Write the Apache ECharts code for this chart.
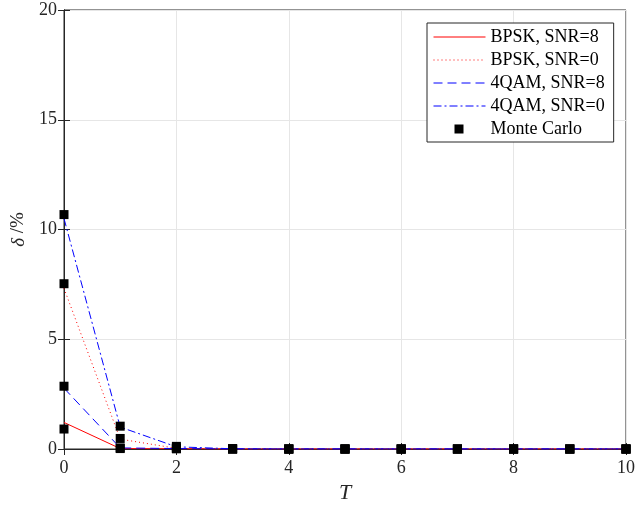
<!DOCTYPE html>
<html>
<head>
<meta charset="utf-8">
<script src="https://cdn.jsdelivr.net/npm/echarts@6/dist/echarts.min.js"></script>
<style>
  html, body { margin: 0; padding: 0; background: #fff; }
  #chart { width: 638px; height: 510px; }
</style>
</head>
<body>
<div id="chart"></div>
<script>
// Frame length T on the x axis
const tValues = [0, 1, 2, 3, 4, 5, 6, 7, 8, 9, 10];

// Analytical curves, delta in percent
const bpskSnr8 = [1.21, 0.02, 0.01, 0, 0, 0, 0, 0, 0, 0, 0];
const bpskSnr0 = [7.32, 0.45, 0.03, 0, 0, 0, 0, 0, 0, 0, 0];
const qamSnr8  = [2.77, 0.05, 0.02, 0, 0, 0, 0, 0, 0, 0, 0];
const qamSnr0  = [10.5, 1.0, 0.1, 0.01, 0, 0, 0, 0, 0, 0, 0];

// Monte Carlo results for each case
const mcBpskSnr8 = [0.91, 0.02, 0.01, 0, 0, 0, 0, 0, 0, 0, 0];
const mcBpskSnr0 = [7.53, 0.48, 0.05, 0, 0, 0, 0, 0, 0, 0, 0];
const mcQamSnr8  = [2.86, 0.05, 0.02, 0, 0, 0, 0, 0, 0, 0, 0];
const mcQamSnr0  = [10.68, 1.04, 0.12, 0.02, 0, 0, 0, 0, 0, 0, 0];

const seriesNames = ['BPSK, SNR=8', 'BPSK, SNR=0', '4QAM, SNR=8', '4QAM, SNR=0', 'Monte Carlo'];

const xTicks = [0, 2, 4, 6, 8, 10];
const yTicks = [0, 5, 10, 15, 20];

const FONT = '"Liberation Serif", "Times New Roman", serif';
const AXIS_COLOR = '#262626';
const GRID_COLOR = '#e6e6e6';
const RED = '#ff0000';
const BLUE = '#0000ff';

// Line styles of the four analytical curves
const styles = [
  { color: RED,  dash: 'solid' },
  { color: RED,  dash: [1, 3] },
  { color: BLUE, dash: [9, 5] },
  { color: BLUE, dash: [8, 3, 2, 3] }
];

// Legend placement
const LEGEND = { left: 427, top: 23, padTop: 5, rowStep: 23, itemWidth: 52, padLeft: 6 };

const pairs = vals => tValues.map((t, i) => [t, vals[i]]);

const mcPoints = [].concat(
  pairs(mcBpskSnr8), pairs(mcBpskSnr0), pairs(mcQamSnr8), pairs(mcQamSnr0)
);

const lineSeries = (name, vals, st) => ({
  name: name,
  type: 'line',
  data: pairs(vals),
  symbol: 'none',
  showSymbol: false,
  lineStyle: { color: st.color, width: 1, type: st.dash },
  itemStyle: { color: st.color },
  animation: false,
  z: 2
});

// Square marker for the Monte Carlo legend row, centred on the icon slot
const mcRowCy = LEGEND.top + LEGEND.padTop + 4 * LEGEND.rowStep + 9;
const mcRowCx = LEGEND.left + LEGEND.padLeft + LEGEND.itemWidth / 2;

const chart = echarts.init(document.getElementById('chart'), null, { renderer: 'canvas' });

const baseX = {
  type: 'value',
  min: xTicks[0],
  max: xTicks[xTicks.length - 1],
  interval: 2
};
const baseY = {
  type: 'value',
  min: yTicks[0],
  max: yTicks[yTicks.length - 1],
  interval: 5
};

chart.setOption({
  backgroundColor: '#fff',
  animation: false,
  grid: {
    left: 64, right: 11, top: 10, bottom: 61,
    show: true, borderColor: AXIS_COLOR, borderWidth: 1, backgroundColor: 'transparent'
  },
  legend: {
    orient: 'vertical',
    left: LEGEND.left, top: LEGEND.top,
    padding: [LEGEND.padTop, 9, 4, LEGEND.padLeft],
    itemGap: LEGEND.rowStep - 18,
    itemWidth: LEGEND.itemWidth,
    itemHeight: 9,
    backgroundColor: '#fff',
    borderColor: AXIS_COLOR,
    borderWidth: 1,
    borderRadius: 0,
    selectedMode: false,
    lineStyle: { width: 1 },
    textStyle: { fontFamily: FONT, fontSize: 18, color: '#000', lineHeight: 18 },
    data: seriesNames.map(name => ({ name: name, itemStyle: { opacity: 0 } }))
  },
  xAxis: [
    Object.assign({}, baseX, {
      position: 'bottom',
      name: 'T',
      nameLocation: 'middle',
      nameGap: 33,
      nameTextStyle: { fontFamily: FONT, fontSize: 22, fontStyle: 'italic', color: '#262626' },
      axisLine: { show: true, lineStyle: { color: AXIS_COLOR, width: 1 } },
      axisTick: { show: true, inside: true, length: 6, lineStyle: { color: AXIS_COLOR } },
      axisLabel: { fontFamily: FONT, fontSize: 18, color: '#262626', margin: 10 },
      splitLine: { show: true, lineStyle: { color: GRID_COLOR, width: 1 } }
    }),
    Object.assign({}, baseX, {
      position: 'top',
      axisLine: { show: true, lineStyle: { color: AXIS_COLOR, width: 1 } },
      axisTick: { show: true, inside: true, length: 6, lineStyle: { color: AXIS_COLOR } },
      axisLabel: { show: false },
      splitLine: { show: false }
    })
  ],
  yAxis: [
    Object.assign({}, baseY, {
      position: 'left',
      name: '{i|δ} /%',
      nameLocation: 'middle',
      nameGap: 36,
      nameTextStyle: {
        fontFamily: FONT, fontSize: 19, color: '#262626',
        rich: { i: { fontFamily: FONT, fontSize: 19, fontStyle: 'italic', color: '#262626' } }
      },
      axisLine: { show: true, lineStyle: { color: AXIS_COLOR, width: 1 } },
      axisTick: { show: true, inside: true, length: 6, lineStyle: { color: AXIS_COLOR } },
      axisLabel: { fontFamily: FONT, fontSize: 18, color: '#262626', margin: 7 },
      splitLine: { show: true, lineStyle: { color: GRID_COLOR, width: 1 } }
    }),
    Object.assign({}, baseY, {
      position: 'right',
      axisLine: { show: true, lineStyle: { color: AXIS_COLOR, width: 1 } },
      axisTick: { show: true, inside: true, length: 6, lineStyle: { color: AXIS_COLOR } },
      axisLabel: { show: false },
      splitLine: { show: false }
    })
  ],
  series: [
    lineSeries(seriesNames[0], bpskSnr8, styles[0]),
    lineSeries(seriesNames[1], bpskSnr0, styles[1]),
    lineSeries(seriesNames[2], qamSnr8, styles[2]),
    lineSeries(seriesNames[3], qamSnr0, styles[3]),
    {
      name: seriesNames[4],
      type: 'scatter',
      data: mcPoints,
      symbol: 'rect',
      symbolSize: 9,
      itemStyle: { color: '#000', opacity: 1 },
      emphasis: { disabled: true },
      animation: false,
      z: 3
    }
  ],
  graphic: [{
    type: 'rect', z: 100,
    shape: { x: mcRowCx - 4.5, y: mcRowCy - 4.5, width: 9, height: 9 },
    style: { fill: '#000' }
  }]
});
</script>
</body>
</html>
